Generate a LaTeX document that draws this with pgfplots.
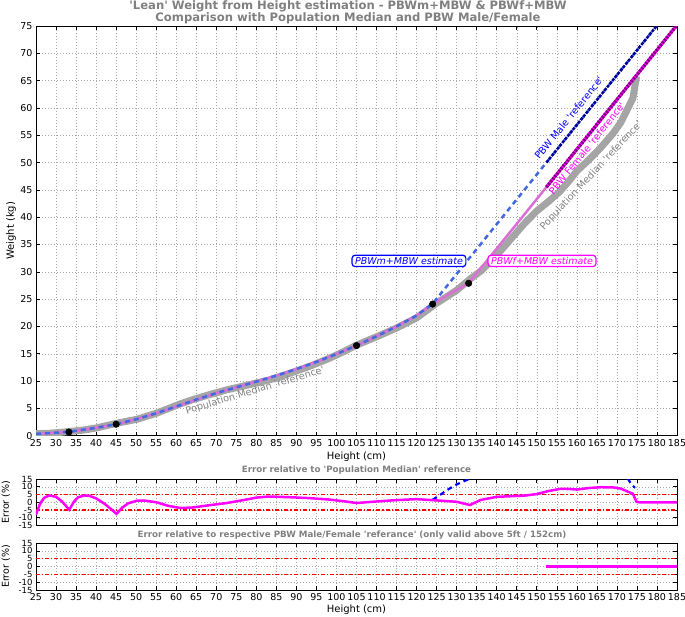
\documentclass[border=0pt]{standalone}
\usepackage{fontspec}
\setmainfont{DejaVu Sans}
\usepackage{pgfplots}
\pgfplotsset{compat=1.18}
\definecolor{medgray}{RGB}{165,165,165}
\definecolor{estblue}{RGB}{65,105,225}
\definecolor{orch}{RGB}{218,112,214}
\definecolor{titlegray}{RGB}{128,128,128}
\definecolor{navyb}{RGB}{0,0,150}
\definecolor{purp}{RGB}{128,0,128}
\definecolor{mag}{RGB}{255,0,255}
\pgfplotsset{
  myax/.style={scale only axis, width=641pt, xmin=25, xmax=185,
    xtick={25,30,...,185}, grid=major,
    grid style={gray!70, line width=0.5pt, dash pattern=on 1pt off 2pt},
    tick align=inside, major tick length=4pt,
    axis line style={line width=0.8pt},
    every tick/.style={black, line width=0.6pt},
    /pgf/number format/assume math mode=true,
    ticklabel style={font=\fontsize{9.5}{10}\selectfont},
    clip=true},
  redline/.style={red, line width=1.5pt, dash pattern=on 4pt off 2pt on 1.2pt off 2pt},
}
\newcommand{\q}{\textquotesingle}
\begin{document}
\begin{tikzpicture}
% ---------------- main axis ----------------
\begin{axis}[myax, at={(36pt,-435.7pt)}, anchor=south west, height=409.7pt,
  ymin=0, ymax=75, ytick={0,5,...,75}]
% population median reference
\addplot[medgray, line width=7pt, line join=round] coordinates {
(25,0.38)(28.3,0.45)(30,0.53)(33.3,0.76)(37,1.05)(40,1.41)(45.1,2.27)(50.2,3.01)
(55,4.1)(61,5.82)(64,6.57)(68,7.45)(72.6,8.39)(77,9.13)(83,10.17)(88,11.33)
(93,12.63)(98,14.1)(102,15.46)(105,16.58)(110,18.11)(115,19.72)(120,21.57)
(125,24.26)(130,26.62)(133.3,28.64)(136,30.13)(140,33.04)(147,38.92)(150,41.14)
(153,42.92)(155.8,44.74)(158,46.59)(160,48.45)(163,50.5)(166,52.76)(169,55.3)
(171,57.38)(174,61.81)(174.9,65.78)};
% PBWf+MBW estimate
\addplot[orch, line width=2.5pt] coordinates {
(25,0.35)(27,0.42)(30,0.55)(33,0.70)(36,1.0)(40,1.45)(45,2.1)(50,3.0)(55,4.1)
(60,5.35)(65,6.6)(70,7.8)(75,8.85)(80,9.9)(85,11.0)(90,12.2)(95,13.5)(100,14.95)
(105,16.5)(110,18.2)(115,20.0)(120,22.0)(124,24.1)(128,25.9)(133,27.9)
(152.4,45.5)(185,75.17)};
% PBWm+MBW estimate
\addplot[estblue, line width=2.5pt, dash pattern=on 5pt off 4pt] coordinates {
(25,0.35)(27,0.42)(30,0.55)(33,0.70)(36,1.0)(40,1.45)(45,2.1)(50,3.0)(55,4.1)
(60,5.35)(65,6.6)(70,7.8)(75,8.85)(80,9.9)(85,11.0)(90,12.2)(95,13.5)(100,14.95)
(105,16.5)(110,18.2)(115,20.0)(120,22.0)(124,24.16)(152.4,50)(179.9,75)};
% PBW Male reference
\addplot[navyb, line width=2.5pt, dash pattern=on 3pt off 1.2pt] coordinates {(152.4,50)(179.9,75)};
% PBW Female reference
\addplot[mag, line width=3.2pt] coordinates {(152.4,45.5)(185,75.17)};
\addplot[purp, line width=3.2pt, dash pattern=on 2pt off 1.3pt] coordinates {(152.4,45.5)(185,75.17)};
% anchor points
\addplot[only marks, mark=*, mark size=3.3pt, black] coordinates {
(33.2,0.68)(45,2.1)(105,16.5)(124,24.1)(133,27.9)};
% annotations
\node[draw=blue, text=blue, fill=white, rounded corners=3pt, line width=1.2pt,
  inner xsep=3pt, inner ysep=2pt, font=\itshape\fontsize{9.5}{10}\selectfont]
  at (axis cs:118.1,32.0) {PBWm+MBW estimate};
\node[draw=mag, text=mag, fill=white, rounded corners=3pt, line width=1.2pt,
  inner xsep=3pt, inner ysep=2pt, font=\itshape\fontsize{9.5}{10}\selectfont]
  at (axis cs:151.3,32.0) {PBWf+MBW estimate};
\node[text=blue, rotate=51, font=\fontsize{9.7}{10}\selectfont]
  at (axis cs:158.0,58.2) {PBW Male \q reference\q};
\node[text=mag, rotate=51, font=\fontsize{9.7}{10}\selectfont]
  at (axis cs:162.5,52.6) {PBW Female \q reference\q};
\node[text=titlegray, rotate=47, font=\fontsize{9.7}{10}\selectfont]
  at (axis cs:163.6,47.6) {Population Median \q reference\q};
\node[text=titlegray, rotate=16.7, font=\fontsize{9.7}{10}\selectfont]
  at (axis cs:79.7,8.2) {Population Median \q reference\q};
\end{axis}
% ---------------- error vs median ----------------
\begin{axis}[myax, at={(36pt,-525.5pt)}, anchor=south west, height=46.5pt,
  ymin=-15, ymax=15, ytick={-15,-10,...,15}, xticklabels={},
  yticklabel style={font=\fontsize{8.5}{8}\selectfont}]
\addplot[redline] coordinates {(25,5)(185,5)};
\addplot[redline] coordinates {(25,-5)(185,-5)};
\addplot[blue, line width=2.2pt, dash pattern=on 5pt off 4pt] coordinates {
(124,1.6)(126,5)(128,8.5)(130,11.5)(132,13.8)(133.5,15.3)};
\addplot[blue, line width=2.2pt, dash pattern=on 5pt off 4pt] coordinates {
(172.7,15.3)(173.5,12)(174.5,9.3)};
\addplot[mag, line width=2.5pt] coordinates {
(25,-8)(26,-1)(27,2.8)(28.3,4.4)(30,3.5)(31.5,0.5)(33.3,-4.8)(34.5,0.5)(35.5,3.2)
(37,4.4)(38.5,4)(40,2.5)(42,-0.8)(44,-5)(45.1,-7.5)(46.5,-3.5)(48,-0.7)(50.2,1.0)
(52,1.1)(55,0)(58,-2.3)(61,-3.7)(64,-3.4)(68,-2)(72.6,-0.5)(77,1.5)(80,3)(83,3.7)
(88,3.3)(93,2.7)(98,1.8)(102,0.6)(105,-0.5)(110,0.5)(115,1.4)(120,2.0)(125,1.2)
(130,0.3)(133.3,-1.8)(136,1.5)(140,3.5)(147,4.3)(150,5.3)(153,7.3)(155.8,8.6)
(158,8.6)(160,8.2)(163,9.2)(166,9.7)(169,9.6)(171,8.8)(174,5.4)(174.9,0.3)
(175.5,0)(185,0)};
\end{axis}
% ---------------- error vs PBW ----------------
\begin{axis}[myax, at={(36pt,-590pt)}, anchor=south west, height=47pt,
  ymin=-15, ymax=15, ytick={-15,-10,...,15},
  yticklabel style={font=\fontsize{8.5}{8}\selectfont}]
\addplot[redline] coordinates {(25,5)(185,5)};
\addplot[redline] coordinates {(25,-5)(185,-5)};
\addplot[mag, line width=3pt] coordinates {(152.4,0)(185,0)};
\end{axis}
% ---------------- texts ----------------
\node[text=titlegray, font=\bfseries\fontsize{11.6}{12}\selectfont] at (348pt,-6pt)
  {\q Lean\q{} Weight from Height estimation - PBWm+MBW \& PBWf+MBW};
\node[text=titlegray, font=\bfseries\fontsize{11.6}{12}\selectfont] at (348pt,-18.5pt)
  {Comparison with Population Median and PBW Male/Female};
\node[font=\fontsize{10}{10}\selectfont] at (356.5pt,-457pt) {Height (cm)};
\node[font=\fontsize{10}{10}\selectfont, rotate=90] at (11pt,-230.8pt) {Weight (kg)};
\node[text=titlegray, font=\bfseries\fontsize{8.7}{9}\selectfont] at (356.5pt,-470pt)
  {Error relative to \q Population Median\q{} reference};
\node[font=\fontsize{9.5}{10}\selectfont, rotate=90] at (6pt,-502pt) {Error (\%)};
\node[text=titlegray, font=\bfseries\fontsize{8.7}{9}\selectfont] at (352pt,-535.5pt)
  {Error relative to respective PBW Male/Female \q referance\q{} (only valid above 5ft / 152cm)};
\node[font=\fontsize{9.5}{10}\selectfont, rotate=90] at (6pt,-566.5pt) {Error (\%)};
\node[font=\fontsize{10}{10}\selectfont] at (356.5pt,-610pt) {Height (cm)};
\pgfresetboundingbox
\path[use as bounding box] (0,0) rectangle (685pt,-616pt);
\end{tikzpicture}
\end{document}
